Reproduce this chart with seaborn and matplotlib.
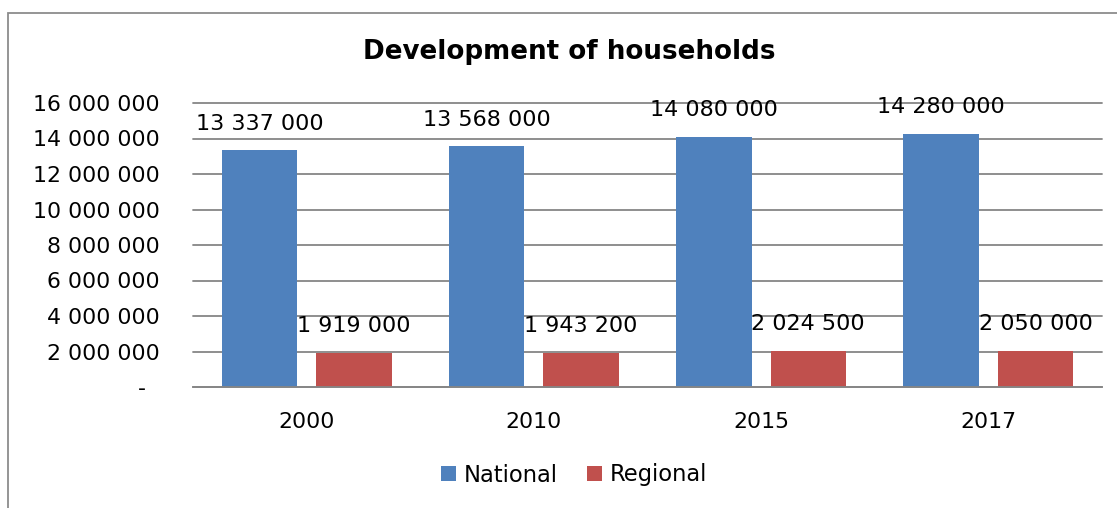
import matplotlib
matplotlib.use("Agg")
import matplotlib.pyplot as plt
import matplotlib.ticker as mticker
from matplotlib.patches import Rectangle
import pandas as pd
import seaborn as sns

YEARS = ["2000", "2010", "2015", "2017"]
NATIONAL = [13337000, 13568000, 14080000, 14280000]
REGIONAL = [1919000, 1943200, 2024500, 2050000]
SERIES = ["National", "Regional"]
COLORS = ["#4F81BD", "#C0504D"]
TITLE = "Development of households"

W, H = 1117, 508
FS = 15.8


def fmt_num(v):
    if v == 0:
        return "-  "
    return f"{int(round(v)):,}".replace(",", " ")


df = pd.DataFrame({
    "year": YEARS * 2,
    "value": NATIONAL + REGIONAL,
    "series": [SERIES[0]] * len(YEARS) + [SERIES[1]] * len(YEARS),
})

sns.set_style("white", {"text.color": "black", "xtick.color": "black",
                        "ytick.color": "black"})
plt.rcParams["font.family"] = ["DejaVu Sans"]

fig = plt.figure(figsize=(W / 100, H / 100), dpi=100)
ax = fig.add_axes([193 / W, 1 - 387 / H, (1102 - 193) / W, (387 - 103) / H])

sns.barplot(
    data=df, x="year", y="value", hue="series", order=YEARS,
    hue_order=SERIES, palette=COLORS, width=0.83, gap=0.2,
    linewidth=0, saturation=1, ax=ax,
)

for cont in ax.containers:
    ax.bar_label(cont, labels=[fmt_num(b.get_height()) for b in cont],
                 padding=12, fontsize=16, color="black")

ax.set_ylim(0, 16000000)
ax.yaxis.set_major_locator(mticker.MultipleLocator(2000000))
ax.yaxis.set_major_formatter(mticker.FuncFormatter(lambda v, p: fmt_num(v)))
ax.yaxis.grid(True, color="#868686", linewidth=1.3)
for gl in ax.get_ygridlines():
    gl.set_clip_on(False)
ax.set_axisbelow(True)
for side in ["left", "right", "top"]:
    ax.spines[side].set_visible(False)
ax.spines["bottom"].set_color("#868686")
ax.spines["bottom"].set_linewidth(1.3)
ax.tick_params(axis="y", length=0, pad=24, labelsize=FS, labelcolor="black")
ax.tick_params(axis="x", length=0, pad=18, labelsize=FS, labelcolor="black")
ax.set_xlabel("")
ax.set_ylabel("")

handles, labels = ax.get_legend_handles_labels()
ax.get_legend().remove()
fig.legend(handles, labels, loc="center", bbox_to_anchor=(574 / W, 1 - 475 / H),
           ncol=2, frameon=False, fontsize=16.3, handlelength=0.65,
           handleheight=0.65, handletextpad=0.35, columnspacing=1.3,
           labelcolor="black")

fig.text(569 / W, 1 - 52 / H, TITLE, ha="center", va="center",
         fontsize=18.8, fontweight="bold", color="black")

fig.patches.append(Rectangle((8 / W, -0.1), 1.2, 1 - 13 / H + 0.1,
                             transform=fig.transFigure, fill=False,
                             edgecolor="#8C8C8C", linewidth=1.3))

fig.savefig("out.png", dpi=100)
